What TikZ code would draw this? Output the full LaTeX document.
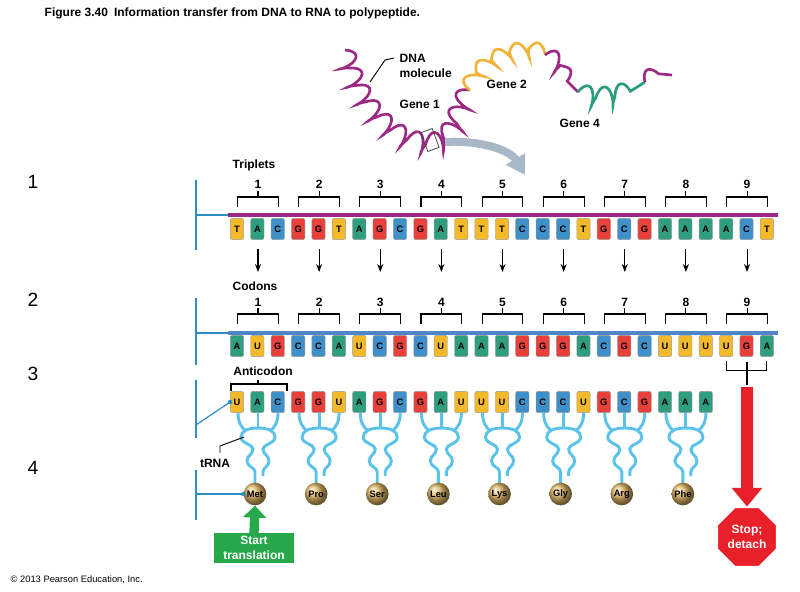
\documentclass[tikz,border=0pt]{standalone}
\usepackage{fontspec}
\setmainfont{Liberation Sans}
\usetikzlibrary{arrows.meta,shapes.geometric,decorations.pathmorphing}
\definecolor{baseyel}{HTML}{F2B92A}
\definecolor{basegrn}{HTML}{2E9E7E}
\definecolor{baseblu}{HTML}{3F8FC8}
\definecolor{basered}{HTML}{E8403A}
\definecolor{dnapurp}{HTML}{9C2A85}
\definecolor{rnablue}{HTML}{4F86C6}
\definecolor{trnablue}{HTML}{5BC3EA}
\definecolor{linkblue}{HTML}{2C8FC4}
\definecolor{aagold}{HTML}{E0B766}
\definecolor{stopred}{HTML}{E8202A}
\definecolor{startgrn}{HTML}{27A84A}
\definecolor{genegold}{HTML}{F0B43A}
\definecolor{genegreen}{HTML}{2A9C7E}
\definecolor{flowgray}{HTML}{A9B8C6}
\tikzset{
  base/.style={draw=black!40, line width=0.3pt, rounded corners=1.5pt, minimum width=10pt,
    minimum height=16pt, inner sep=0pt, font=\bfseries\fontsize{7}{7}\selectfont},
  baseT/.style={fill=baseyel}, baseU/.style={fill=baseyel},
  baseA/.style={fill=basegrn}, baseC/.style={fill=baseblu}, baseG/.style={fill=basered},
  brk/.style={line width=0.8pt},
  num/.style={font=\bfseries\small},
  lbl/.style={font=\bfseries\small},
  link/.style={linkblue, line width=0.9pt},
  trna/.style={trnablue, line width=2.2pt},
  aa/.style={circle, shading=ball, ball color=aagold, minimum size=17pt, inner sep=0pt,
    font=\bfseries\scriptsize},
  helix/.style={decorate, decoration={coil, aspect=0.35, segment length=14pt, amplitude=7pt},
    line width=2pt},
}
\newcommand\trnashape[1]{%
  \begin{scope}[shift={(#1,0)}]
    \draw[trna] (-20,413) .. controls (-20,423) and (-16,428) .. (-12,431);
    \draw[trna] (20,413) .. controls (20,423) and (16,428) .. (12,431);
    \draw[trna] (0,413) -- (0,428);
    \draw[trna] (-3,483) -- (-3,472) .. controls (-3,467) and (-11,467) .. (-11,461)
      .. controls (-11,455) and (-5,455) .. (-5,449) .. controls (-5,444) and (-17,444) .. (-17,437)
      .. controls (-17,431) and (-10,428) .. (0,428) .. controls (10,428) and (17,431) .. (17,437)
      .. controls (17,444) and (5,444) .. (5,449) .. controls (5,455) and (11,455) .. (11,461)
      .. controls (11,467) and (5,467) .. (5,472) -- (5,476);
  \end{scope}}
\begin{document}
\begin{tikzpicture}[x=0.75pt, y=-0.75pt]
  \useasboundingbox (0,0) rectangle (800,592);
  % title and credit
  \node[anchor=west, font=\bfseries\small] (title) at (40,13)
    {Figure 3.40\enspace Information transfer from DNA to RNA to polypeptide.};
  \node[anchor=west, font=\scriptsize] (credit) at (6,580) {© 2013 Pearson Education, Inc.};
  % DNA molecule
  \draw[helix, dnapurp] (345,50) .. controls (360,110) and (400,150) .. (440,140)
    .. controls (455,130) and (460,100) .. (470,90);
  \draw[helix, genegold] (470,90) .. controls (480,60) and (520,45) .. (545,55);
  \draw[helix, dnapurp] (545,55) .. controls (560,65) and (565,85) .. (578,92);
  \draw[helix, genegreen] (578,92) .. controls (600,100) and (625,95) .. (645,82);
  \draw[helix, dnapurp] (645,82) .. controls (655,76) and (665,74) .. (672,75);
  \draw[black!70, line width=0.6pt, rotate around={20:(430,140)}] (424,130) rectangle (436,150);
  \node[lbl, anchor=west, align=left] (dnamol) at (395,66) {DNA\\molecule};
  \draw[line width=0.7pt] (394,58) -- (385,60) -- (370,82);
  \node[lbl, anchor=west] (gene1) at (395,104) {Gene 1};
  \node[lbl, anchor=west] (gene2) at (482,84) {Gene 2};
  \node[lbl, anchor=west] (gene4) at (555,123) {Gene 4};
  \draw[flowgray, line width=6pt, -{Triangle[width=16pt,length=14pt]}]
    (445,142) .. controls (480,140) and (510,150) .. (525,175);
  % row numbers
  \node[font=\Large] (r1) at (33,182) {1};
  \node[font=\Large] (r2) at (33,300) {2};
  \node[font=\Large] (r3) at (33,374) {3};
  \node[font=\Large] (r4) at (33,468) {4};
  % DNA strand
  \node[lbl, anchor=west] (triplets) at (228,165) {Triplets};
  \draw[dnapurp, line width=3pt] (228,215) -- (778,215);
  \foreach \l [count=\i] in {T,A,C,G,G,T,A,G,C,G,A,T,T,T,C,C,C,T,G,C,G,A,A,A,A,C,T}
    \node[base, base\l] (d\i) at ({237+20.38*(\i-1)},229) {\l};
  % mRNA strand
  \node[lbl, anchor=west] (codons) at (228,286) {Codons};
  \draw[rnablue, line width=3pt] (228,333) -- (778,333);
  \foreach \l [count=\i] in {A,U,G,C,C,A,U,C,G,C,U,A,A,A,G,G,G,A,C,G,C,U,U,U,U,G,A}
    \node[base, base\l] (m\i) at ({237+20.38*(\i-1)},346) {\l};
  % triplet brackets and arrows
  \foreach \k in {1,...,9} {
    \pgfmathsetmacro\c{258+61.13*(\k-1)}
    \draw[brk] (\c-20.4,207) -- (\c-20.4,197) -- (\c+20.4,197) -- (\c+20.4,207);
    \draw[brk] (\c,197) -- (\c,191);
    \node[num] (tn\k) at (\c,184) {\k};
    \draw[brk] (\c-20.4,324) -- (\c-20.4,314) -- (\c+20.4,314) -- (\c+20.4,324);
    \draw[brk] (\c,314) -- (\c,308);
    \node[num] (cn\k) at (\c,302) {\k};
    \draw[-{Stealth[length=6pt]}, line width=0.8pt] (\c,249) -- (\c,272);
  }
  % anticodons and tRNAs
  \node[lbl] (anticodon) at (263,371) {Anticodon};
  \draw[brk] (231,391) -- (231,384) -- (287,384) -- (287,391);
  \draw[brk] (258,384) -- (258,380);
  \foreach \l [count=\i] in {U,A,C,G,G,U,A,G,C,G,A,U,U,U,C,C,C,U,G,C,G,A,A,A}
    \node[base, base\l] (a\i) at ({237+20.38*(\i-1)},402) {\l};
  \foreach \k in {1,...,8} {
    \pgfmathsetmacro\c{258+61.13*(\k-1)}
    \trnashape{\c}
  }
  \foreach \n [count=\k] in {Met,Pro,Ser,Leu,Lys,Gly,Arg,Phe}
    \node[aa] (aa\k) at ({255+61.13*(\k-1)},494) {\n};
  \node[lbl] (trnalbl) at (215,463) {tRNA};
  \draw[line width=0.7pt] (220,453) -- (220,446) -- (244,437);
  % left links
  \draw[link] (196,180) -- (196,250);
  \draw[link] (196,215) -- (228,215);
  \draw[link] (196,298) -- (196,365);
  \draw[link] (196,333) -- (228,333);
  \draw[link] (196,380) -- (196,438);
  \draw[link] (196,470) -- (196,520);
  \draw[link] (196,425) -- (a1.west);
  \fill[linkblue] (a1.west) circle (2.2);
  \draw[link] (196,494) -- (aa1.west);
  \fill[linkblue] (aa1.west) circle (2.2);
  % start
  \node[fill=startgrn, text=white, font=\bfseries\small, align=center, minimum width=60pt,
    minimum height=22pt, inner sep=1pt] (start) at (254,548) {Start\\translation};
  \draw[startgrn, line width=7pt, -{Triangle[width=17pt,length=9pt]}] (start.north) -- (aa1.south);
  % stop
  \draw[brk] (m25.south) ++(0,-3pt) -- ++(0,-7pt) -| ([yshift=-3pt]m27.south);
  \draw[brk] (747,362) -- (747,385);
  \node[regular polygon, regular polygon sides=8, fill=stopred, draw=white, line width=1.2pt,
    minimum size=48pt, inner sep=0pt, text=white, font=\bfseries\small, align=center]
    (stop) at (747,537) {Stop;\\detach};
  \coordinate (stoptop) at (747,387);
  \draw[stopred, line width=9pt, -{Triangle[width=22pt,length=14pt]}] (stoptop) -- (stop.north);
\end{tikzpicture}
\end{document}
